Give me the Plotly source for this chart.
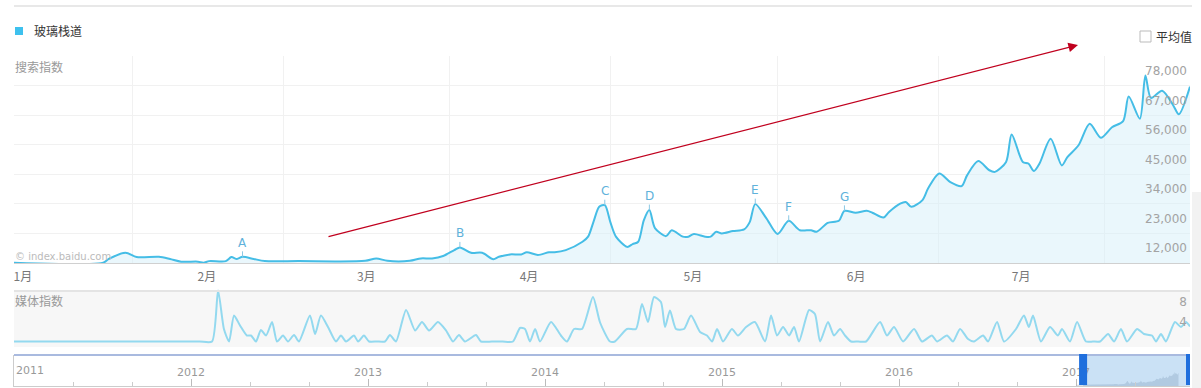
import plotly.graph_objects as go
import pandas as pd

# ---------------- data ----------------
series_name = "玻璃栈道"
start_date = "2017-01-01"
day_offsets = [0, 16, 17, 20, 22, 26, 28, 30, 33, 34, 35, 38, 39, 40, 41, 43, 45, 51, 63, 65,
               67, 71, 73, 75, 77, 79, 80, 82, 84, 86, 87, 89, 91, 92, 94, 96, 97, 99, 102, 103,
               104, 105, 106, 107, 108, 110, 111, 112, 113, 114, 115, 117, 118, 120, 121, 122, 124, 125, 126, 127,
               129, 131, 132, 133, 135, 137, 139, 141, 143, 144, 146, 148, 149, 151, 153, 154, 156, 157, 159, 160,
               161, 163, 164, 166, 168, 170, 171, 173, 175, 176, 178, 179, 181, 182, 183, 184, 186, 188, 189, 191,
               193, 195, 197, 199, 200, 202, 203, 204, 206, 208, 209, 211]
search_index = [6600, 6600, 8000, 10300, 8700, 8800, 8000, 7000, 7000, 6600, 7200, 7200, 8700, 8000, 8800, 8000, 7200, 7200, 7300, 8200,
                7300, 7300, 8200, 8200, 9100, 11300, 12300, 10300, 10300, 7900, 8800, 9700, 9700, 10500, 9500, 10500, 10500, 11300, 14400, 16300,
                22000, 27400, 28000, 21700, 16300, 12500, 13500, 14400, 22400, 26200, 19500, 16500, 18700, 16300, 16300, 17300, 16300, 16300, 18100, 17500,
                18400, 19000, 21700, 28400, 23100, 17300, 22200, 18700, 18700, 18100, 21400, 22200, 25900, 25200, 25900, 25200, 23400, 25500, 28600, 29200,
                27400, 29900, 34200, 39800, 36600, 35100, 39100, 44400, 41000, 40400, 44100, 54300, 44100, 43500, 40700, 43500, 52700, 42800, 45900, 50300,
                58300, 53100, 57000, 59300, 68400, 60200, 76200, 67900, 70600, 65100, 61800, 72100]

month_labels = ["1月", "2月", "3月", "4月", "5月", "6月", "7月", "8月"]
y_tick_values = [12000, 23000, 34000, 45000, 56000, 67000, 78000]
y_tick_labels = [f"{v:,}" for v in y_tick_values]

event_labels = ["A", "B", "C", "D", "E", "F", "G"]
event_days = [41, 80, 106, 114, 133, 139, 149]

media_years = [2011.000, 2011.300, 2011.600, 2011.900, 2012.050, 2012.119, 2012.153, 2012.186, 2012.215, 2012.243, 2012.277, 2012.316, 2012.339, 2012.367,
               2012.395, 2012.424, 2012.458, 2012.486, 2012.520, 2012.548, 2012.582, 2012.610, 2012.672, 2012.701,
               2012.734, 2012.774, 2012.819, 2012.847, 2012.876, 2012.921, 2012.944, 2012.977, 2013.006, 2013.050, 2013.096,
               2013.124, 2013.158, 2013.215, 2013.266, 2013.305, 2013.345, 2013.395, 2013.441, 2013.480, 2013.514,
               2013.548, 2013.610, 2013.638, 2013.700, 2013.760, 2013.819, 2013.859, 2013.887, 2013.915, 2013.944, 2013.972, 2014.034,
               2014.090, 2014.124, 2014.164, 2014.209, 2014.271, 2014.311, 2014.367, 2014.395, 2014.463, 2014.514,
               2014.548, 2014.582, 2014.616, 2014.655, 2014.678, 2014.706, 2014.740, 2014.785, 2014.825, 2014.876,
               2014.915, 2014.944, 2014.972, 2015.006, 2015.056, 2015.090, 2015.136, 2015.186, 2015.243, 2015.277,
               2015.311, 2015.345, 2015.379, 2015.407, 2015.435, 2015.492, 2015.525, 2015.554, 2015.599, 2015.633,
               2015.667, 2015.695, 2015.729, 2015.770, 2015.814, 2015.893, 2015.932, 2015.972, 2016.023, 2016.085, 2016.130,
               2016.186, 2016.215, 2016.271, 2016.305, 2016.345, 2016.390, 2016.424, 2016.475, 2016.503, 2016.554,
               2016.593, 2016.661, 2016.706, 2016.734, 2016.757, 2016.802, 2016.853, 2016.898, 2016.921, 2016.966,
               2017.006, 2017.056, 2017.096, 2017.136, 2017.181, 2017.215, 2017.254, 2017.288, 2017.345, 2017.384, 2017.429,
               2017.452, 2017.480, 2017.508, 2017.559, 2017.593, 2017.621, 2017.644]
media_index = [0, 0, 0, 0, 0, 0, 10.2, 2.5, 0, 5.2, 3.2, 1.2, 1.2, 0,
               2.3, 1.2, 3.9, 0, 1.2, 0, 1.3, 0, 5.2, 1.5,
               5.2, 2.9, 0, 1.2, 0, 1.2, 0, 1.2, 0, 0, 0,
               1.3, 0, 6.3, 2.2, 3.9, 2.2, 3.9, 2.2, 0, 1.3,
               0, 1.3, 0, 0, 0, 0, 2.7, 2.5, 0, 2.5, 0, 3.9,
               1.2, 0, 2.5, 2.5, 8.9, 3.8, 0, 0, 2.5, 2.5,
               7.5, 3.9, 8.9, 7.9, 2.9, 6.2, 2.5, 2.5, 5.2, 1.9,
               1.2, 0, 2.5, 0, 2.5, 1.2, 2.9, 3.9, 0, 5.2,
               1.2, 2.9, 1.2, 2.9, 0, 6.3, 5.5, 0, 3.9, 1.2,
               2.5, 1.2, 0, 0, 0, 3.9, 1.2, 2.9, 0, 2.5, 0,
               1.2, 0, 1.2, 0, 2.5, 0.5, 0, 1.2, 0, 3.9,
               0, 2.5, 5.2, 2.9, 5.2, 0, 2.9, 1.2, 2.5, 0,
               3.9, 0, 0, 0, 1.5, 0, 2.5, 0, 2.5, 1.5, 1.2,
               0, 1.5, 0, 3.9, 2.9, 3.9, 3.0]
media_tick_values = [4, 8]
year_values = [2012, 2013, 2014, 2015, 2016, 2017]
year_labels = ["2012", "2013", "2014", "2015", "2016", "2017"]
first_year_label = "2011"

# ---------------- layout helpers ----------------
W, H = 1201, 388
def fx(p):
    return p / W
def fy(p):
    return 1 - p / H

t0 = pd.Timestamp(start_date)
dates = [t0 + pd.Timedelta(days=d) for d in day_offsets]
fmt = "%Y-%m-%d %H:%M"

month_tick_days = [1.6, 34.6, 63.2, 92.4, 121.8, 151.1, 180.7, 209.4]
grid_days = [21.2, 48.3, 78.1, 107.1, 136.9, 165.8, 195.6]
month_ticks = [(t0 + pd.Timedelta(days=d)).strftime(fmt) for d in month_tick_days]
grid_ticks = [(t0 + pd.Timedelta(days=d)).strftime(fmt) for d in grid_days]
y_grid = [6500 + 11000 * k for k in range(8)]

nav_x = [2011 + (d - pd.Timestamp("2011-01-01")).days / 365.25 for d in dates]

NUM = "DejaVu Sans"
CJK = "Noto Sans CJK SC"
LINE = "#45bde6"

fig = go.Figure()

fig.add_trace(go.Scatter(
    x=dates, y=search_index, name=series_name, mode="lines",
    line=dict(color=LINE, width=2, shape="spline", smoothing=0.8),
    fill="tozeroy", fillcolor="rgba(214,240,250,0.5)",
    xaxis="x", yaxis="y", hoverinfo="skip"))

fig.add_trace(go.Scatter(
    x=media_years, y=media_index, mode="lines",
    line=dict(color="#93d9ef", width=2, shape="spline", smoothing=0.6),
    xaxis="x2", yaxis="y2", hoverinfo="skip", cliponaxis=False))

fig.add_trace(go.Scatter(
    x=nav_x, y=search_index, mode="lines",
    line=dict(width=0, color="rgba(120,150,180,0.3)"),
    fill="tozeroy", fillcolor="rgba(120,150,180,0.3)",
    xaxis="x3", yaxis="y3", hoverinfo="skip"))

xdom = [fx(14), fx(1190)]

fig.update_layout(
    width=W, height=H,
    margin=dict(l=0, r=0, t=0, b=0),
    paper_bgcolor="white", plot_bgcolor="white",
    showlegend=False,
    font=dict(family=NUM + ", " + CJK, size=12, color="#999"),
    xaxis=dict(domain=xdom, anchor="y", type="date",
               range=[t0.strftime(fmt), (t0 + pd.Timedelta(days=211)).strftime(fmt)],
               tickvals=month_ticks, ticktext=month_labels,
               tickfont=dict(family=CJK, size=12, color="#777"),
               ticklabelstandoff=3,
               showgrid=False, zeroline=False,
               showline=True, linecolor="#d0d0d0", linewidth=1, ticks="",
               minor=dict(tickvals=grid_ticks, showgrid=True, gridcolor="#f1f1f1", gridwidth=1, ticks="")),
    yaxis=dict(domain=[fy(263), fy(56)], anchor="x", range=[6500, 83500],
               side="right", ticklabelposition="inside",
               tickvals=y_tick_values, ticktext=y_tick_labels,
               tickfont=dict(family=NUM, size=12, color="#a3a3a3"),
               showgrid=False, zeroline=False, showline=False, ticks="",
               minor=dict(tickvals=y_grid, showgrid=True, gridcolor="#f1f1f1", gridwidth=1, ticks="")),
    xaxis2=dict(domain=xdom, anchor="y2", range=[2011, 2017.644],
                showticklabels=False, showgrid=False, zeroline=False, showline=False, ticks=""),
    yaxis2=dict(domain=[fy(344), fy(288)], anchor="x2", range=[-0.5, 10.7],
                side="right", ticklabelposition="inside",
                tickvals=media_tick_values, ticktext=[str(v) for v in media_tick_values],
                tickfont=dict(family=NUM, size=12, color="#a3a3a3"),
                showgrid=False, zeroline=False, showline=False, ticks=""),
    xaxis3=dict(domain=xdom, anchor="y3", range=[2011, 2017.644],
                tickvals=year_values, ticktext=year_labels,
                ticklabelposition="inside",
                tickfont=dict(family=NUM, size=11, color="#999"),
                ticks="inside", ticklen=7, tickcolor="#bbb",
                minor=dict(dtick=1/3, tick0=2011, ticks="inside", ticklen=4, tickcolor="#ccc"),
                showgrid=False, zeroline=False, showline=True, linecolor="#ccc", linewidth=1),
    yaxis3=dict(domain=[fy(386), fy(355)], anchor="x3", range=[0, 170000],
                showticklabels=False, showgrid=False, zeroline=False,
                showline=True, linecolor="#ccc", linewidth=1, ticks=""),
)

shapes = [
    dict(type="line", xref="paper", yref="paper", x0=fx(14), x1=fx(1192), y0=fy(6), y1=fy(6),
         line=dict(color="#e0e0e0", width=1.5)),
    dict(type="rect", xref="paper", yref="paper", x0=fx(15), x1=fx(23), y0=fy(35), y1=fy(27),
         fillcolor="#3ec1ee", line=dict(width=0)),
    dict(type="rect", xref="paper", yref="paper", x0=fx(1140), x1=fx(1151), y0=fy(42), y1=fy(31),
         fillcolor="white", line=dict(color="#bbb", width=1)),
    dict(type="rect", xref="paper", yref="paper", x0=fx(14), x1=fx(1190), y0=fy(347), y1=fy(291),
         fillcolor="#f7f7f7", line=dict(width=0), layer="below"),
    dict(type="line", xref="paper", yref="paper", x0=fx(14), x1=fx(1190), y0=fy(291), y1=fy(291),
         line=dict(color="#e4e4e4", width=2)),
    dict(type="rect", xref="paper", yref="paper", x0=fx(1192), x1=1, y0=0, y1=fy(192),
         fillcolor="#f2f2f2", line=dict(width=0)),
    dict(type="line", xref="paper", yref="paper", x0=fx(14), x1=fx(1190), y0=fy(355), y1=fy(355),
         line=dict(color="#a9badf", width=2)),
    dict(type="rect", xref="x3", yref="paper", x0=2017.04, x1=2017.644, y0=fy(386), y1=fy(356),
         fillcolor="rgba(150,195,236,0.5)", line=dict(width=0), layer="below"),
    dict(type="rect", xref="x3", yref="paper", xsizemode="pixel", xanchor=2017.04, x0=-4, x1=4,
         y0=fy(385), y1=fy(354), fillcolor="#1f6fdd", line=dict(width=0)),
    dict(type="rect", xref="x3", yref="paper", xsizemode="pixel", xanchor=2017.644, x0=-4, x1=4,
         y0=fy(385), y1=fy(354), fillcolor="#1f6fdd", line=dict(width=0)),
]
fig.update_layout(shapes=shapes)

ann = [
    dict(text=series_name, x=fx(32), y=fy(31), xref="paper", yref="paper", xanchor="left", yanchor="middle",
         showarrow=False, font=dict(family=CJK, size=12, color="#333")),
    dict(text="平均值", x=fx(1154), y=fy(36), xref="paper", yref="paper", xanchor="left", yanchor="middle",
         showarrow=False, font=dict(family=CJK, size=12, color="#333")),
    dict(text="搜索指数", x=fx(13), y=fy(66), xref="paper", yref="paper", xanchor="left", yanchor="middle",
         showarrow=False, font=dict(family=CJK, size=12, color="#999")),
    dict(text="媒体指数", x=fx(13), y=fy(300), xref="paper", yref="paper", xanchor="left", yanchor="middle",
         showarrow=False, font=dict(family=CJK, size=12, color="#999")),
    dict(text="© index.baidu.com", x=fx(13), y=fy(256), xref="paper", yref="paper", xanchor="left", yanchor="middle",
         showarrow=False, font=dict(family=NUM, size=10, color="#bbb")),
    dict(text=first_year_label, x=fx(14), y=fy(370), xref="paper", yref="paper", xanchor="left", yanchor="middle",
         showarrow=False, font=dict(family=NUM, size=11, color="#999")),
    dict(text="", x=fx(1078), y=fy(45), xref="paper", yref="paper",
         ax=327 - 1078, ay=237 - 45, axref="pixel", ayref="pixel",
         showarrow=True, arrowhead=2, arrowsize=1.6, arrowwidth=1.2, arrowcolor="#c0001e", standoff=0),
]
for lab, d in zip(event_labels, event_days):
    v = search_index[day_offsets.index(d)]
    ann.append(dict(text=lab, x=(t0 + pd.Timedelta(days=d)).strftime(fmt), y=v, xref="x", yref="y",
                    showarrow=True, arrowhead=0, arrowwidth=1, arrowcolor="#8cc8e4",
                    ax=0, ay=-14, standoff=0,
                    font=dict(family=NUM, size=12, color="#5fb2db")))
fig.update_layout(annotations=ann)

fig.write_html("out.html", config={"displayModeBar": False},
               post_script="document.body.style.margin='0';document.body.style.overflow='hidden';")
